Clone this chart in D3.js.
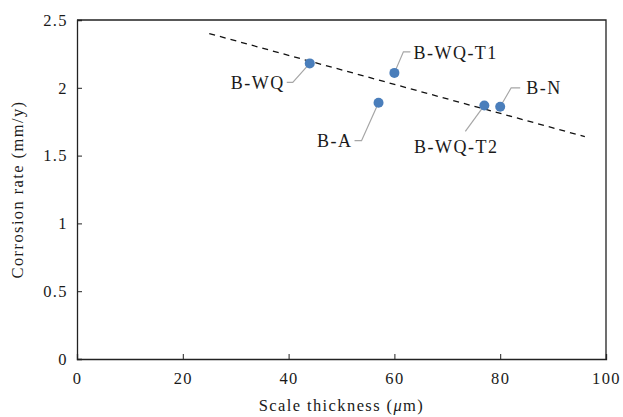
<!DOCTYPE html>
<html>
<head>
<meta charset="utf-8">
<script src="https://cdn.jsdelivr.net/npm/d3@7"></script>
<style>
  body { margin: 0; background: #fff; }
  text { font-family: "Liberation Serif", "DejaVu Serif", serif; fill: #1a1a1a; }
</style>
</head>
<body>
<div id="chart"></div>
<script>
// chart size
const width = 623;
const height = 417;
const margin = {top: 20, right: 17, bottom: 58, left: 77};

// data
const samples = ["B-WQ", "B-WQ-T1", "B-A", "B-WQ-T2", "B-N"];
const thickness = [44, 60, 57, 77, 80];
const corrosion = [2.18, 2.11, 1.89, 1.87, 1.86];
const trendX = [25, 96];
const trendY = [2.40, 1.64];
const xTicks = [0, 20, 40, 60, 80, 100];
const yTicks = [0, 0.5, 1, 1.5, 2, 2.5];

// label placement, pixel offsets from each point (layout only)
const labelPos = [
  {dx: -25, dy: 19, anchor: "end",    leader: [[-17, 19], [-23, 19]]},
  {dx: 19,  dy: -20, anchor: "start", leader: [[9, -21], [16, -21]]},
  {dx: -26, dy: 38, anchor: "end",    leader: [[-17, 38], [-24, 38]]},
  {dx: -28, dy: 41, anchor: "middle", leader: [[-19, 26]]},
  {dx: 26,  dy: -19, anchor: "start", leader: [[11, -19], [20, -19]]}
];

const innerW = width - margin.left - margin.right;
const innerH = height - margin.top - margin.bottom;

const svg = d3.select("#chart").append("svg")
    .attr("width", width)
    .attr("height", height);

const g = svg.append("g")
    .attr("transform", "translate(" + margin.left + "," + margin.top + ")");

const x = d3.scaleLinear().domain([0, 100]).range([0, innerW]);
const y = d3.scaleLinear().domain([0, 2.5]).range([innerH, 0]);

// frame (top and right)
g.append("path")
    .attr("d", "M0,0H" + innerW + "V" + innerH)
    .attr("fill", "none")
    .attr("stroke", "#222")
    .attr("stroke-width", 1.3);

// axes with inward ticks
const xAxis = g.append("g")
    .attr("transform", "translate(0," + innerH + ")")
    .call(d3.axisBottom(x).tickValues(xTicks).tickSize(-5).tickPadding(13).tickFormat(d3.format("d")));

const yAxis = g.append("g")
    .call(d3.axisLeft(y).tickValues(yTicks).tickSize(-5).tickPadding(9).tickFormat(d => d));

[xAxis, yAxis].forEach(a => {
  a.select(".domain").attr("stroke", "#222").attr("stroke-width", 1.3);
  a.selectAll(".tick line").attr("stroke", "#222");
  a.selectAll(".tick text")
      .style("font-family", '"Liberation Serif", serif')
      .style("font-size", "16.5px")
      .style("letter-spacing", "1.4px")
      .attr("fill", "#1a1a1a");
});
xAxis.select(".tick:last-of-type line").remove();
yAxis.select(".tick:last-of-type line").remove();

// trend line
g.append("line")
    .attr("x1", x(trendX[0])).attr("y1", y(trendY[0]))
    .attr("x2", x(trendX[1])).attr("y2", y(trendY[1]))
    .attr("stroke", "#111")
    .attr("stroke-width", 1.3)
    .attr("stroke-dasharray", "6,5");

const pts = samples.map((s, i) => ({name: s, x: thickness[i], y: corrosion[i], pos: labelPos[i]}));

// leader lines
g.selectAll(".leader")
    .data(pts)
    .enter().append("path")
    .attr("class", "leader")
    .attr("fill", "none")
    .attr("stroke", "#a6a6a6")
    .attr("stroke-width", 1.2)
    .attr("d", function(d) {
      const px = x(d.x), py = y(d.y);
      return "M" + px + "," + py + d.pos.leader.map(p => "L" + (px + p[0]) + "," + (py + p[1])).join("");
    });

// points
g.selectAll(".pt")
    .data(pts)
    .enter().append("circle")
    .attr("class", "pt")
    .attr("cx", d => x(d.x))
    .attr("cy", d => y(d.y))
    .attr("r", 5)
    .attr("fill", "#4a7ebb");

// point labels
g.selectAll(".lbl")
    .data(pts)
    .enter().append("text")
    .attr("class", "lbl")
    .attr("x", d => x(d.x) + d.pos.dx)
    .attr("y", d => y(d.y) + d.pos.dy)
    .attr("dy", "0.35em")
    .attr("text-anchor", d => d.pos.anchor)
    .style("font-size", "18px")
    .style("letter-spacing", "1.5px")
    .text(d => d.name);

// axis titles
svg.append("text")
    .attr("x", margin.left + innerW / 2)
    .attr("y", 411)
    .attr("text-anchor", "middle")
    .style("font-size", "16.5px")
    .style("letter-spacing", "1.4px")
    .html('Scale thickness (<tspan font-style="italic">μ</tspan>m)');

svg.append("text")
    .attr("transform", "translate(23," + (margin.top + innerH / 2) + ") rotate(-90)")
    .attr("text-anchor", "middle")
    .style("font-size", "16.5px")
    .style("letter-spacing", "1.4px")
    .text("Corrosion rate (mm/y)");
</script>
</body>
</html>
